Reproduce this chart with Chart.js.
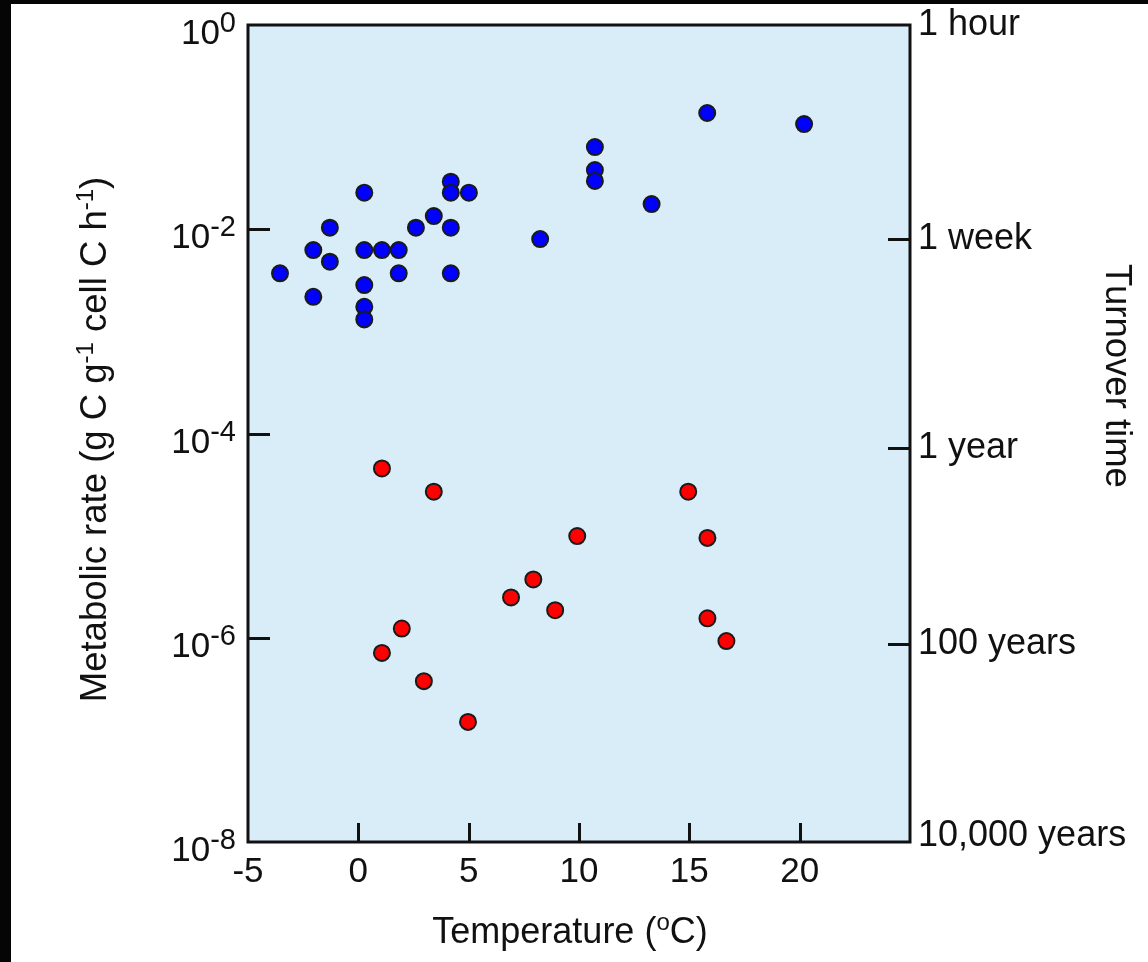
<!DOCTYPE html>
<html>
<head>
<meta charset="utf-8">
<script src="https://cdn.jsdelivr.net/npm/chart.js@4.4.1/dist/chart.umd.min.js"></script>
<style>
html,body{margin:0;padding:0;background:#fff;}
canvas{display:block;}
</style>
</head>
<body>
<canvas id="c" width="1148" height="962"></canvas>
<script>
// ---- Data ----
const blueTemps = [-3.55, -2.04, -2.04, -1.29, -1.29, 0.27, 0.27, 0.27, 0.27, 0.27, 1.07, 1.83, 1.83, 2.61, 3.42, 4.19, 4.19, 4.19, 4.19, 5.01, 8.24, 10.72, 10.72, 10.72, 13.29, 15.81, 20.2];
const blueRates = [0.0037, 0.00625, 0.00218, 0.01035, 0.00481, 0.0228, 0.00625, 0.00284, 0.00174, 0.00131, 0.00625, 0.00625, 0.0037, 0.01035, 0.01346, 0.0292, 0.0228, 0.01035, 0.0037, 0.0228, 0.00802, 0.0638, 0.038, 0.0297, 0.01766, 0.1375, 0.1072];

const redTemps = [1.07, 3.42, 9.92, 7.93, 6.92, 8.92, 1.97, 1.07, 2.97, 4.97, 14.95, 15.82, 15.82, 16.68];
const redRates = [4.55e-5, 2.69e-5, 9.9e-6, 3.72e-6, 2.48e-6, 1.86e-6, 1.23e-6, 7.11e-7, 3.76e-7, 1.50e-7, 2.69e-5, 9.5e-6, 1.55e-6, 9.27e-7];

const xTickValues = [-5, 0, 5, 10, 15, 20];
const xTickMarks = [0, 5, 10, 15, 20];
const yTickExponents = [0, -2, -4, -6, -8];
const yTickMarkExponents = [-2, -4, -6];
const turnoverLabels = ['1 hour', '1 week', '1 year', '100 years', '10,000 years'];
const turnoverValues = [1, 8.0e-3, 7.2e-5, 8.7e-7, 1e-8];
const turnoverTickMarks = [8.0e-3, 7.2e-5, 8.7e-7];

const xTitle = [{t:'Temperature ('}, {t:'o', sup:true}, {t:'C)'}];
const yTitle = [{t:'Metabolic rate (g C g'}, {t:'-1', sup:true}, {t:' cell C h'}, {t:'-1', sup:true}, {t:')'}];
const y2Title = 'Turnover time';

// ---- Drawing helpers ----
const FONT = '"Liberation Sans", Arial, Helvetica, sans-serif';
const INK = '#111111';

function richWidth(ctx, segs, base, sup) {
  let w = 0;
  for (const s of segs) { ctx.font = (s.sup ? sup : base) + 'px ' + FONT; w += ctx.measureText(s.t).width; }
  return w;
}
function drawRich(ctx, segs, x, y, base, sup, rise, align) {
  const w = richWidth(ctx, segs, base, sup);
  let cx = align === 'right' ? x - w : (align === 'center' ? x - w / 2 : x);
  ctx.textAlign = 'left';
  ctx.textBaseline = 'alphabetic';
  for (const s of segs) {
    ctx.font = (s.sup ? sup : base) + 'px ' + FONT;
    ctx.fillText(s.t, cx, s.sup ? y - rise : y);
    cx += ctx.measureText(s.t).width;
  }
}

const framePlugin = {
  id: 'frame',
  beforeDraw(chart) {
    const ctx = chart.ctx, a = chart.chartArea;
    ctx.save();
    ctx.fillStyle = '#ffffff';
    ctx.fillRect(0, 0, chart.width, chart.height);
    ctx.fillStyle = '#050505';
    ctx.fillRect(0, 0, chart.width, 4);
    ctx.fillRect(0, 0, 11, chart.height);
    ctx.fillStyle = '#d9edf9';
    ctx.fillRect(a.left, a.top, a.right - a.left, a.bottom - a.top);
    ctx.restore();
  },
  afterDraw(chart) {
    const ctx = chart.ctx, a = chart.chartArea;
    const xs = chart.scales.x, ys = chart.scales.y, y2 = chart.scales.y2;
    ctx.save();
    ctx.strokeStyle = INK;
    ctx.lineWidth = 3;
    ctx.strokeRect(a.left, a.top, a.right - a.left, a.bottom - a.top);

    // inward tick marks
    ctx.beginPath();
    for (const v of xTickMarks) {
      const px = Math.round(xs.getPixelForValue(v)) + 0.5;
      ctx.moveTo(px, a.bottom); ctx.lineTo(px, a.bottom - 19);
    }
    for (const e of yTickMarkExponents) {
      const py = Math.round(ys.getPixelForValue(Math.pow(10, e))) + 0.5;
      ctx.moveTo(a.left, py); ctx.lineTo(a.left + 22, py);
    }
    for (const v of turnoverTickMarks) {
      const py = Math.round(y2.getPixelForValue(v)) + 0.5;
      ctx.moveTo(a.right, py); ctx.lineTo(a.right - 22, py);
    }
    ctx.stroke();

    ctx.fillStyle = INK;
    // x tick labels
    ctx.font = '35px ' + FONT;
    ctx.textAlign = 'center';
    ctx.textBaseline = 'alphabetic';
    for (const v of xTickValues) {
      ctx.fillText(String(v), xs.getPixelForValue(v), a.bottom + 40);
    }
    // y tick labels (powers of ten)
    for (const e of yTickExponents) {
      const py = ys.getPixelForValue(Math.pow(10, e));
      drawRich(ctx, [{t:'10'}, {t: e === 0 ? '0' : '-' + (-e), sup:true}], a.left - 12, py + 19, 35, 29, 12, 'right');
    }
    // right turnover labels
    ctx.font = '36px ' + FONT;
    ctx.textAlign = 'left';
    ctx.textBaseline = 'middle';
    turnoverLabels.forEach((lab, i) => {
      let py = y2.getPixelForValue(turnoverValues[i]);
      if (i === turnoverLabels.length - 1) py -= 6;
      ctx.fillText(lab, a.right + 8, py);
    });

    // x title
    drawRich(ctx, xTitle, (a.left + a.right) / 2 - 9, a.bottom + 101, 36, 24, 13, 'center');
    // y title (rotated)
    ctx.save();
    ctx.translate(106, (a.top + a.bottom) / 2 + 6);
    ctx.rotate(-Math.PI / 2);
    drawRich(ctx, yTitle, 0, 0, 36.5, 24, 13, 'center');
    ctx.restore();
    // right title (rotated)
    ctx.save();
    ctx.translate(1106, 376);
    ctx.rotate(Math.PI / 2);
    ctx.font = '36.5px ' + FONT;
    ctx.textAlign = 'center';
    ctx.textBaseline = 'alphabetic';
    ctx.fillText(y2Title, 0, 0);
    ctx.restore();

    ctx.restore();
  }
};

const toPoints = (xs, ys) => xs.map((x, i) => ({x: x, y: ys[i]}));

new Chart(document.getElementById('c'), {
  type: 'scatter',
  data: {
    datasets: [
      {
        label: 'Blue',
        data: toPoints(blueTemps, blueRates),
        backgroundColor: '#0000ff',
        borderColor: '#1a1a1a',
        borderWidth: 2,
        pointRadius: 8,
        pointHoverRadius: 8
      },
      {
        label: 'Red',
        data: toPoints(redTemps, redRates),
        backgroundColor: '#ff0000',
        borderColor: '#1a1a1a',
        borderWidth: 2,
        pointRadius: 8,
        pointHoverRadius: 8
      }
    ]
  },
  options: {
    responsive: false,
    animation: false,
    devicePixelRatio: 1,
    layout: { padding: { top: 25, left: 0, right: 0, bottom: 0 } },
    plugins: { legend: { display: false }, tooltip: { enabled: false } },
    scales: {
      x: {
        type: 'linear', position: 'bottom', min: -5, max: 25,
        ticks: { display: false }, grid: { display: false }, border: { display: false },
        afterFit(s) { s.height = 120; }
      },
      y: {
        type: 'logarithmic', position: 'left', min: 1e-8, max: 1,
        ticks: { display: false }, grid: { display: false }, border: { display: false },
        afterFit(s) { s.width = 248; }
      },
      y2: {
        type: 'logarithmic', position: 'right', min: 1e-8, max: 1,
        ticks: { display: false }, grid: { display: false }, border: { display: false },
        afterFit(s) { s.width = 238; }
      }
    }
  },
  plugins: [framePlugin]
});
</script>
</body>
</html>
